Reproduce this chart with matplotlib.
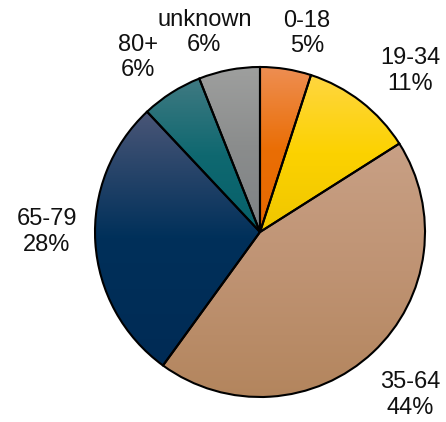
import matplotlib
matplotlib.use("Agg")
import matplotlib.pyplot as plt
import numpy as np
from matplotlib.colors import to_rgb

plt.rcParams["font.family"] = ["Liberation Sans", "DejaVu Sans"]

labels = ["0-18", "19-34", "35-64", "65-79", "80+", "unknown"]
shares = [5, 11, 44, 28, 6, 6]
# gradient colours per slice: top, middle, bottom
top_colors = ["#ee8e52", "#ffd640", "#c8a085", "#4a5677", "#407a82", "#9e9f9e"]
mid_colors = ["#ea6e05", "#fcd200", "#bf9373", "#00305a", "#0f6870", "#8a8c8c"]
bottom_colors = ["#e66800", "#efc600", "#b3855d", "#002b55", "#06606a", "#7e8285"]
# label placement (layout): angle nudge in degrees, distance in radii
lab_nudge = [-4.3, -5.2, -0.6, -3.6, 2.5, 4.8]
lab_dist = [1.236, 1.334, 1.343, 1.291, 1.288, 1.255]

fig = plt.figure(figsize=(4.46, 4.22), dpi=100)
cx, cy, r = 260, 232, 165
ax = fig.add_axes([(cx - r) / 446, (422 - cy - r) / 422, 2 * r / 446, 2 * r / 422])

wedges, _ = ax.pie(shares, startangle=90, counterclock=False, radius=1, frame=False,
                   wedgeprops=dict(edgecolor="black", linewidth=1.5))
ax.set_xlim(-1, 1); ax.set_ylim(-1, 1); ax.axis("off")

a = np.linspace(0, 1, 256)
for w, lab, s, c0, cm, c1, dn, dd in zip(wedges, labels, shares, top_colors, mid_colors,
                                          bottom_colors, lab_nudge, lab_dist):
    verts = w.get_path().vertices
    y0, y1 = verts[:, 1].min(), verts[:, 1].max()
    x0, x1 = verts[:, 0].min(), verts[:, 0].max()
    stops = np.array([to_rgb(c0), to_rgb(cm), to_rgb(c1)])
    grad = np.stack([np.interp(a, [0, 0.5, 1], stops[:, k]) for k in range(3)], axis=1)
    img = ax.imshow(grad[:, None, :].repeat(2, axis=1), extent=(x0, x1, y0, y1),
                    origin="upper", aspect="auto", zorder=1, interpolation="bilinear")
    img.set_clip_path(w)
    w.set_facecolor("none")
    w.set_zorder(3)
    ang = np.deg2rad((w.theta1 + w.theta2) / 2 + dn)
    ax.text(dd * np.cos(ang), dd * np.sin(ang), f"{lab}\n{s}%", ha="center", va="center",
            fontsize=17, color="#111111", clip_on=False)

ax.set_xlim(-1, 1); ax.set_ylim(-1, 1)
fig.savefig("out.png", dpi=100)
